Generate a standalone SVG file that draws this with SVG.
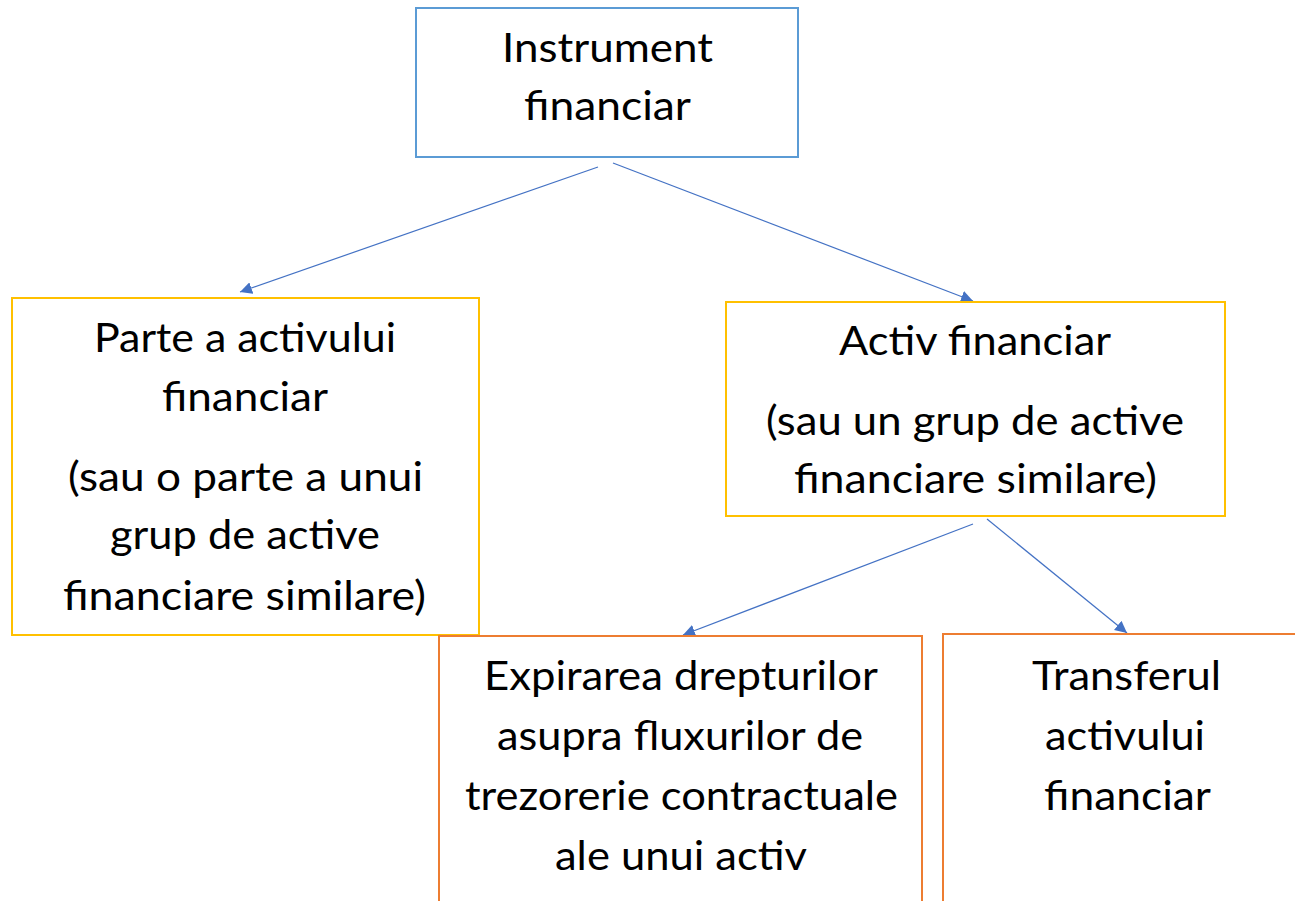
<svg xmlns="http://www.w3.org/2000/svg" width="1295" height="901" viewBox="0 0 1295 901">
<style>
text{font-family:Lato,"Liberation Sans",sans-serif;font-size:41px;fill:#000;text-anchor:middle}
.blue{fill:#fff;stroke:#5B9BD5;stroke-width:2}
.yel{fill:#fff;stroke:#FFC000;stroke-width:2}
.org{fill:#fff;stroke:#ED7D31;stroke-width:2}
.c{stroke:#4472C4;stroke-width:1.2;fill:none;marker-end:url(#ah)}
</style>
<defs>
<marker id="ah" viewBox="0 0 10 10" refX="10" refY="5" markerWidth="12" markerHeight="12" markerUnits="userSpaceOnUse" orient="auto">
<path d="M0,0 L10,5 L0,10 z" fill="#4472C4"/>
</marker>
</defs>
<rect width="1295" height="901" fill="#fff"/>
<g id="connectors">
<line class="c" x1="598" y1="167" x2="240" y2="292"/>
<line class="c" x1="613" y1="163" x2="973" y2="301"/>
<line class="c" x1="973" y1="524" x2="683" y2="635"/>
<line class="c" x1="987" y1="519" x2="1127" y2="633"/>
</g>
<g id="instrument">
<rect class="blue" x="416" y="8" width="382" height="149"/>
<text x="607.5" y="62" textLength="211" lengthAdjust="spacingAndGlyphs">Instrument</text>
<text x="607.5" y="120" textLength="167" lengthAdjust="spacingAndGlyphs">financiar</text>
</g>
<g id="parte">
<rect class="yel" x="12" y="298" width="467" height="337"/>
<text x="245" y="352" textLength="302" lengthAdjust="spacingAndGlyphs">Parte a activului</text>
<text x="245" y="411" textLength="166" lengthAdjust="spacingAndGlyphs">financiar</text>
<text x="245.5" y="491" textLength="355" lengthAdjust="spacingAndGlyphs">(sau o parte a unui</text>
<text x="245" y="549" textLength="270" lengthAdjust="spacingAndGlyphs">grup de active</text>
<text x="244.5" y="610" textLength="363" lengthAdjust="spacingAndGlyphs">financiare similare)</text>
</g>
<g id="activ">
<rect class="yel" x="726" y="302" width="499" height="214"/>
<text x="975" y="355" textLength="272" lengthAdjust="spacingAndGlyphs">Activ financiar</text>
<text x="975" y="435" textLength="418" lengthAdjust="spacingAndGlyphs">(sau un grup de active</text>
<text x="975.5" y="493" textLength="363" lengthAdjust="spacingAndGlyphs">financiare similare)</text>
</g>
<g id="expirarea">
<rect class="org" x="439" y="636" width="483" height="280"/>
<text x="681" y="690" textLength="394" lengthAdjust="spacingAndGlyphs">Expirarea drepturilor</text>
<text x="680" y="750" textLength="366" lengthAdjust="spacingAndGlyphs">asupra fluxurilor de</text>
<text x="681.5" y="810" textLength="433" lengthAdjust="spacingAndGlyphs">trezorerie contractuale</text>
<text x="681" y="870" textLength="252" lengthAdjust="spacingAndGlyphs">ale unui activ</text>
</g>
<g id="transferul">
<rect class="org" x="943" y="634" width="370" height="280"/>
<text x="1126.5" y="690" textLength="189" lengthAdjust="spacingAndGlyphs">Transferul</text>
<text x="1125" y="750" textLength="160" lengthAdjust="spacingAndGlyphs">activului</text>
<text x="1127.5" y="810" textLength="167" lengthAdjust="spacingAndGlyphs">financiar</text>
</g>
</svg>
